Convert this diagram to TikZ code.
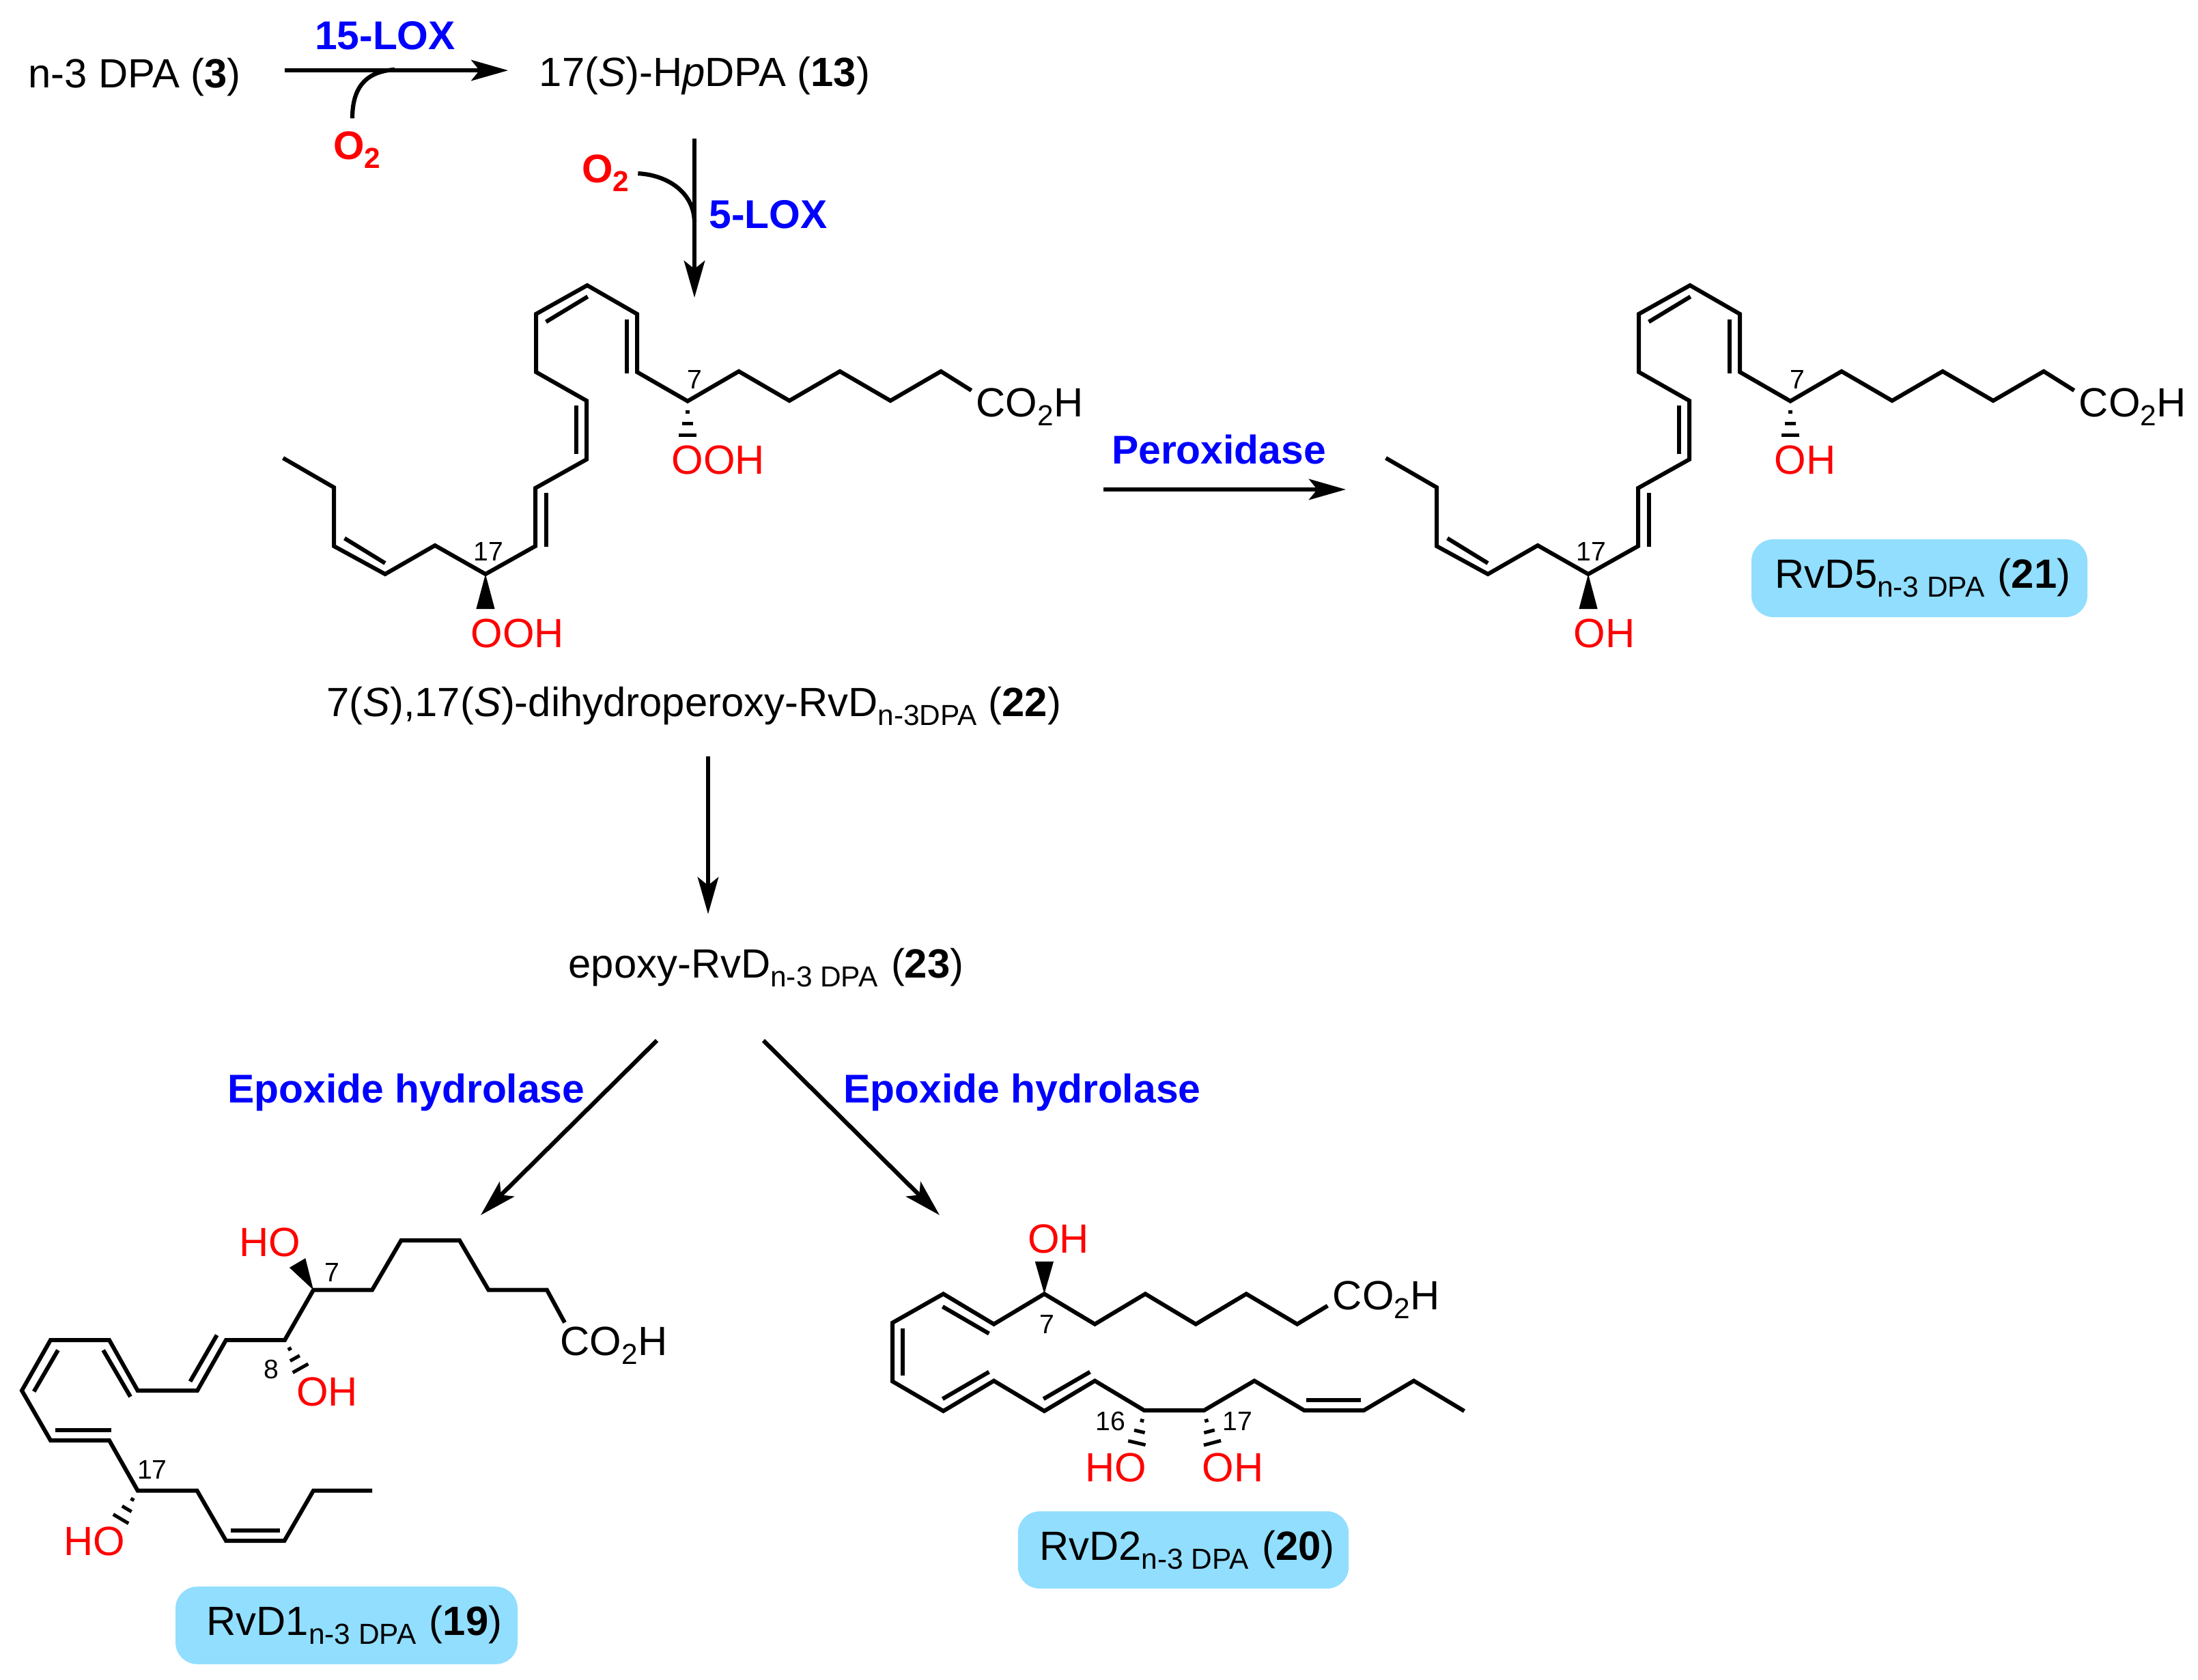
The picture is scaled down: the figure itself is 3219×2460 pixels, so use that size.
\documentclass[tikz,border=0pt]{standalone}
\usepackage{fontspec}
\setmainfont{Liberation Sans}
\usetikzlibrary{arrows.meta,calc}

\definecolor{boxblue}{RGB}{145,222,255}
\newcommand{\subs}[1]{\raisebox{-3.25pt}{\fontsize{10.6}{12}\selectfont #1}}
\newcommand{\hashbond}[2]{\foreach \t/\w in {.3/.7pt,.62/2pt,.96/3.25pt}
	\draw[hashline] ($(#1)!\t!(#2)!\w!90:(#2)$) -- ($(#1)!\t!(#2)!\w!-90:(#2)$);}
\newcommand{\wedgebond}[2]{\fill (#1) -- ($(#2)!3.4pt!90:(#1)$) -- ($(#2)!3.4pt!-90:(#1)$) -- cycle;}
\newcommand{\chainabove}[3]{
\draw[bond] (414.6,671) -- (489,714) -- (489,800) -- (564,841) -- (637,799) -- (711,841) coordinate (#1c17)
	-- (784,800) -- (784,715) -- (859,673) -- (859,587) -- (785,545) -- (785,460) -- (860,418)
	-- (933,460) -- (933,545) -- (1007,587.6) coordinate (#1c7) -- (1082,544) -- (1156,587) -- (1230,544)
	-- (1304,587) -- (1378,544) -- (1422.6,572);
\draw[bond] (860.7,434.5) -- (799.6,471.5);
\draw[bond] (917.8,468) -- (917.8,547.4);
\draw[bond] (843.8,594.3) -- (843.8,664.8);
\draw[bond] (800.4,721.5) -- (800.4,800.5);
\draw[bond] (504.6,788.5) -- (564,825);
\coordinate (#1w17) at (711,892);
\coordinate (#1h7) at (1007,640);
\wedgebond{#1c17}{#1w17}
\hashbond{#1c7}{#1h7}
\node[small] (#1n7) at (1017,556) {7};
\node[small] (#1n17) at (715,808) {17};
\node[oxy,anchor=base west] (#1ox7) at (983,694) {#2};
\node[oxy,anchor=base west] (#1ox17) at (689,948) {#3};
\node[plain,anchor=base west] (#1acid) at (1429,610) {CO\subs{2}H};
}

\begin{document}
\begin{tikzpicture}
[
x=.25pt, y=-.25pt,
plain/.style={anchor=base, inner sep=0pt, font=\fontsize{14.95}{17}\selectfont},
oxy/.style={plain, text=red},
enzyme/.style={plain, text=blue, font=\fontsize{14.7}{17}\selectfont\bfseries},
gas/.style={plain, text=red, font=\fontsize{14.6}{17}\selectfont\bfseries},
small/.style={inner sep=0pt, font=\fontsize{9.8}{11}\selectfont},
bond/.style={line width=1.5pt, line join=miter},
hashline/.style={line width=1.25pt},
rxn/.style={line width=1.55pt, -{Stealth[length=13.5pt,width=7.6pt,inset=3pt]}},
curl/.style={line width=1.55pt},
namebox/.style={plain, anchor=center, fill=boxblue, rounded corners=8pt}
]
\useasboundingbox (0,0) rectangle (3219,2460);

% top of the scheme
\node[plain] (dpa) at (197,129) {n-3 DPA (\textbf{3})};
\node[plain] (hpdpa) at (1032,127) {17(\textit{S})-H\textit{p}DPA (\textbf{13})};
\node[enzyme] (lox15) at (564,73) {15-LOX};
\node[gas] (o2a) at (523,234) {O\subs{2}};
\node[gas] (o2b) at (887,268) {O\subs{2}};
\node[enzyme] (lox5) at (1125,335) {5-LOX};
\coordinate (m1) at (578,102);
\coordinate (m2) at (1017,325);
\coordinate (t22) at (1017,436);

\draw[rxn, shorten <=16pt, shorten >=11.25pt] ([yshift=2.6pt]dpa.east) -- ([yshift=2.6pt]dpa.east -| hpdpa.west);
\draw[curl] ([shift={(-1.75pt,4.75pt)}]o2a.north) .. controls (516,135) and (530,105) .. (m1);
\draw[rxn, shorten <=15.75pt] (hpdpa.south -| t22) -- (t22);
\draw[curl] ([xshift=3pt]o2b.east) .. controls (975,256) and (1016,280) .. (m2);

% dihydroperoxy compound and RvD5
\chainabove{a}{OOH}{OOH}
\node[plain] (lab22) at (1016,1049) {7(\textit{S}),17(\textit{S})-dihydroperoxy-RvD\subs{n-3DPA} (\textbf{22})};
\begin{scope}[xshift=403.75pt]
\chainabove{b}{OH}{OH}
\end{scope}
\node[namebox, minimum width=123pt, minimum height=28.5pt] (rvd5) at (2811,847) {\hspace*{2.5pt}RvD5\subs{n-3 DPA}\hspace{.75pt} (\textbf{21})};
\node[enzyme] (perox) at (1785,679) {Peroxidase};
\coordinate (p22) at (1616,717);
\coordinate (p21) at (1971,717);
\draw[rxn] (p22) -- (p21);

% epoxide
\node[plain] (epoxy) at (1122,1432) {epoxy-RvD\subs{n-3 DPA}\hspace{.75pt} (\textbf{23})};
\coordinate (t23) at (1037,1339);
\draw[rxn, shorten <=11.25pt] (lab22.south -| t23) -- (t23);
\node[enzyme] (eh1) at (595,1615) {Epoxide hydrolase};
\node[enzyme] (eh2) at (1497,1615) {Epoxide hydrolase};
\coordinate (t19) at (704,1780);
\coordinate (t20) at (1376,1780);
\draw[rxn] ([shift={(-40pt,-19.5pt)}]epoxy.south) -- (t19);
\draw[rxn] ([shift={(-1pt,-19.5pt)}]epoxy.south) -- (t20);

% RvD1
\draw[bond] (827,1937.4) -- (801,1889.7) -- (715.5,1889.7) -- (673,1817) -- (587.5,1817) -- (545,1889.7)
	-- (459,1889.7) coordinate (d7) -- (417,1963) coordinate (d8) -- (331,1963) -- (289,2037) -- (201.6,2037)
	-- (160,1963) -- (74,1963) -- (32,2037) -- (74,2110) -- (160,2110) -- (201.6,2183.5) coordinate (d17)
	-- (288.5,2183.5) -- (331,2257) -- (416.5,2257) -- (459,2183.5) -- (545,2183.5);
\draw[bond] (317.6,1955.8) -- (278.5,2023.7);
\draw[bond] (151.2,1977.8) -- (191,2046);
\draw[bond] (84.9,1977.8) -- (49.7,2038.4);
\draw[bond] (81,2095) -- (162.5,2095);
\draw[bond] (338,2242) -- (410,2242);
\coordinate (dw7) at (435.6,1850);
\coordinate (dh8) at (441,2006);
\coordinate (dh17) at (176,2226.7);
\wedgebond{d7}{dw7}
\hashbond{d8}{dh8}
\hashbond{d17}{dh17}
\node[oxy] (dho7) at (395,1840) {HO};
\node[oxy] (doh8) at (479,2059) {OH};
\node[oxy] (dho17) at (138.5,2278) {HO};
\node[small] (dn7) at (486,1864) {7};
\node[small] (dn8) at (397,2006) {8};
\node[small] (dn17) at (223,2153) {17};
\node[plain,anchor=base west] (dacid) at (820,1985.6) {CO\subs{2}H};
\node[namebox, minimum width=125.25pt, minimum height=28.4pt] (rvd1) at (507.5,2381) {\hspace*{5.75pt}RvD1\subs{n-3 DPA}\hspace{.75pt} (\textbf{19})};

% RvD2
\draw[bond] (1944.3,1912.8) -- (1899.7,1939.7) -- (1825.2,1895.4) -- (1751.2,1939.7) -- (1677.3,1895.4)
	-- (1603.4,1939.7) -- (1529.4,1895.4) coordinate (e7) -- (1455.5,1939.7) -- (1381.5,1895.4) -- (1307,1937.7)
	-- (1307,2023.5) -- (1381.5,2067) -- (1455.5,2022.7) -- (1529.4,2067) -- (1603.4,2022.7)
	-- (1676,2066.2) coordinate (e16) -- (1763,2066.2) coordinate (e17) -- (1837,2022.7) -- (1910.3,2066.2)
	-- (1997,2066.2) -- (2070.5,2022.7) -- (2144.4,2067);
\draw[bond] (1380.4,1914) -- (1448.4,1953.5);
\draw[bond] (1322.3,1946.4) -- (1322.3,2014.8);
\draw[bond] (1380.4,2049.2) -- (1448.4,2009.7);
\draw[bond] (1528.2,2049.2) -- (1596.3,2009.7);
\draw[bond] (1912.6,2051.2) -- (1993,2051.2);
\coordinate (ew7) at (1529.4,1848);
\coordinate (eh16) at (1664.4,2115.6);
\coordinate (eh17) at (1776,2115.6);
\wedgebond{e7}{ew7}
\hashbond{e16}{eh16}
\hashbond{e17}{eh17}
\node[oxy] (eoh7) at (1550,1835) {OH};
\node[oxy] (eho16) at (1634,2170) {HO};
\node[oxy] (eoh17) at (1805.5,2170) {OH};
\node[small] (en7) at (1533,1940) {7};
\node[small] (en16) at (1626,2082) {16};
\node[small] (en17) at (1812,2082) {17};
\node[plain,anchor=base west] (eacid) at (1951,1918) {CO\subs{2}H};
\node[namebox, minimum width=121.1pt, minimum height=28.3pt] (rvd2) at (1733,2270.5) {\hspace*{2.75pt}RvD2\subs{n-3 DPA}\hspace{.75pt} (\textbf{20})};
\end{tikzpicture}
\end{document}
